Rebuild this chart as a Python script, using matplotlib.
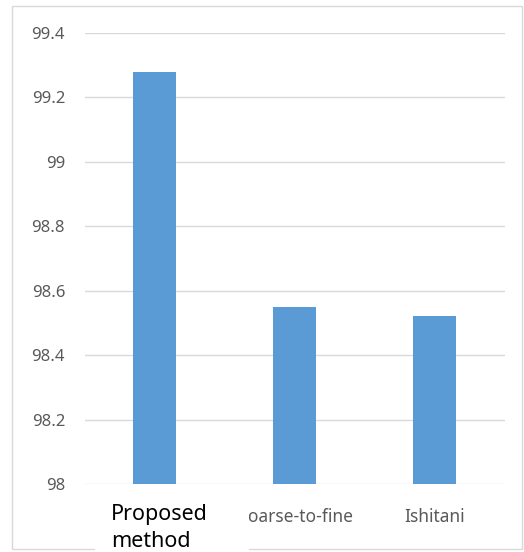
import numpy as np
import matplotlib.pyplot as plt
from matplotlib.patches import Rectangle

categories = ['Proposed\nmethod', 'Coarse-to-fine', 'Ishitani']
values = [99.28, 98.55, 98.52]
y_ticks = [98, 98.2, 98.4, 98.6, 98.8, 99, 99.2, 99.4]
y_labels = ['98', '98.2', '98.4', '98.6', '98.8', '99', '99.2', '99.4']

plt.rcParams['font.family'] = ['Noto Sans', 'DejaVu Sans']

W, H = 524, 552
fig = plt.figure(figsize=(W / 100, H / 100), dpi=100)

# plot area in pixels
ax = fig.add_axes([84.5 / W, (H - 484) / H, 420 / W, 451 / H])
x = np.arange(len(categories))
ax.bar(x, values, width=0.31, color='#5B9BD5', zorder=2)
ax.set_xlim(-0.5, len(categories) - 0.5)
ax.set_ylim(98, 99.4)
ax.set_yticks(y_ticks)
ax.set_yticklabels(y_labels)
ax.set_xticks(x)
ax.set_xticklabels([''] + categories[1:])
ax.yaxis.grid(True, color='#D9D9D9', linewidth=1)
ax.set_axisbelow(True)
for s in ax.spines.values():
    s.set_visible(False)
ax.tick_params(length=0, colors='#595959')
ax.tick_params(axis='y', pad=14, labelsize=12)
ax.tick_params(axis='x', pad=17, labelsize=12.5)

# outer chart border
fig.patches.append(Rectangle((12 / W, (H - 549) / H), 510 / W, 543 / H,
                             transform=fig.transFigure, fill=False,
                             edgecolor='#D9D9D9', linewidth=1, zorder=1))
# white box behind the first label (covers border and part of next label)
fig.patches.append(Rectangle((95 / W, 0), 154 / W, (H - 496) / H,
                             transform=fig.transFigure, facecolor='white',
                             edgecolor='none', zorder=5))
fig.text(111 / W, (H - 504) / H, categories[0], ha='left', va='top',
         fontsize=15.5, color='black', linespacing=1.4, zorder=6)

fig.savefig('out.png', dpi=100)
